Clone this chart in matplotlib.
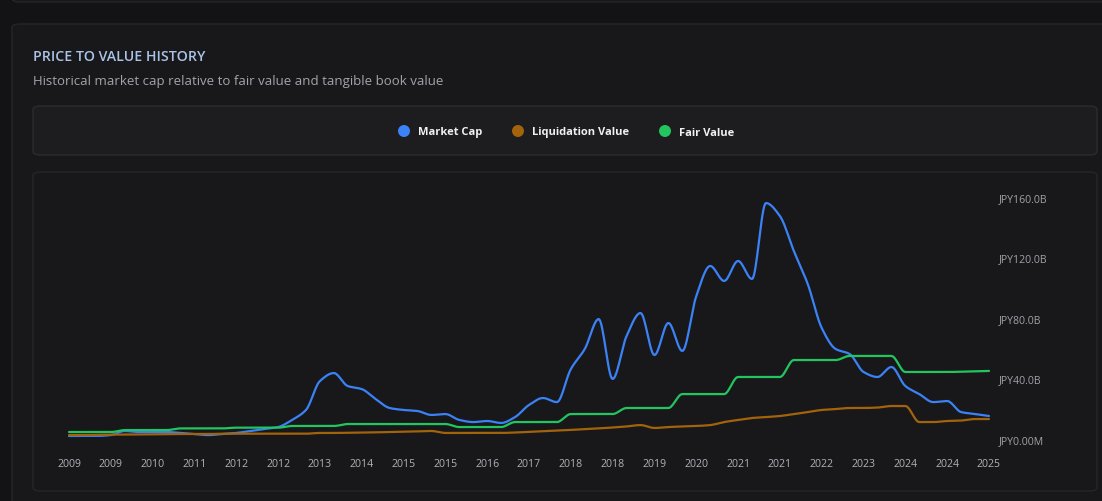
#!/usr/bin/env python3
# -*- coding: utf-8 -*-
# Price to value history chart (quarterly, JPY billions)
import numpy as np
import matplotlib
matplotlib.use('Agg')
import matplotlib.pyplot as plt
from matplotlib.patches import FancyBboxPatch, Ellipse
from matplotlib.ticker import FixedLocator, FuncFormatter

# quarterly values, 2009 -> 2025, in billions of JPY
market_cap = [2.0, 2.0, 2.0, 2.6, 5.3, 4.6, 4.6, 4.6, 4.0, 3.3,
              2.6, 3.3, 4.0, 5.3, 6.6, 7.9, 12.6, 19.2, 38.3, 43.6,
              35.0, 33.0, 26.4, 20.5, 19.2, 18.5, 15.9, 16.5, 12.6, 11.2,
              11.9, 10.6, 14.5, 22.5, 27.1, 24.4, 46.2, 59.5, 79.3, 39.7,
              68.1, 83.3, 55.5, 76.7, 58.2, 94.5, 114.4, 104.5, 117.7, 105.8,
              156.0, 147.4, 124.3, 102.4, 73.4, 59.5, 56.2, 44.3, 41.0, 47.6,
              35.0, 29.7, 24.4, 25.1, 17.8, 16.5, 15.2]
liquidation_value = [2.6, 2.6, 2.8, 2.9, 3.0, 3.0, 3.1, 3.2, 3.3, 3.3,
                     3.3, 3.5, 3.5, 3.5, 3.5, 3.5, 3.5, 3.5, 4.0, 4.0,
                     4.1, 4.2, 4.4, 4.6, 4.8, 5.0, 5.3, 4.0, 4.0, 4.0,
                     4.0, 4.0, 4.3, 4.7, 5.1, 5.5, 6.0, 6.5, 7.0, 7.6,
                     8.3, 9.2, 7.3, 7.9, 8.3, 8.6, 9.2, 11.2, 12.6, 13.9,
                     14.5, 15.2, 16.5, 17.8, 19.2, 19.8, 20.5, 20.5, 20.8, 21.8,
                     21.8, 11.2, 11.2, 11.9, 12.2, 13.2, 13.2]
fair_value = [4.6, 4.6, 4.6, 4.6, 5.9, 5.9, 5.9, 5.9, 7.0, 7.0,
              7.0, 7.0, 7.5, 7.5, 7.5, 7.5, 8.6, 8.6, 8.6, 8.6,
              9.9, 9.9, 9.9, 9.9, 9.9, 9.9, 9.9, 9.9, 7.9, 7.9,
              7.9, 7.9, 11.2, 11.2, 11.2, 11.2, 16.5, 16.5, 16.5, 16.5,
              20.5, 20.5, 20.5, 20.5, 29.7, 29.7, 29.7, 29.7, 41.0, 41.0,
              41.0, 41.0, 52.2, 52.2, 52.2, 52.2, 54.9, 54.9, 54.9, 54.9,
              44.3, 44.3, 44.3, 44.3, 44.5, 44.8, 45.0]

# one label for every third quarter
x_labels = ['2009', '2009', '2010', '2011', '2012', '2012', '2013', '2014',
            '2015', '2015', '2016', '2017', '2018', '2018', '2019', '2020',
            '2021', '2021', '2022', '2023', '2024', '2024', '2025']
y_ticks = [0, 40, 80, 120, 160]

series = [
    ('Market Cap', market_cap, '#3b82f6'),
    ('Liquidation Value', liquidation_value, '#a3630b'),
    ('Fair Value', fair_value, '#22c55e'),
]

W, H = 1102, 502
BG = '#131316'
CARD = '#18181b'
BORDER = '#26262a'


def monotone(y, n = 16):
    """Monotone cubic (Fritsch-Carlson) through evenly spaced points."""
    y = np.asarray(y, dtype = float)
    x = np.arange(len(y), dtype = float)
    d = np.diff(y)
    m = np.zeros_like(y)
    m[0] = d[0]
    m[-1] = d[-1]
    for i in range(1, len(y) - 1):
        if d[i - 1] * d[i] > 0:
            m[i] = 2.0 / (1.0 / d[i - 1] + 1.0 / d[i])
    xs, ys = [], []
    t = np.linspace(0, 1, n, endpoint = False)
    for i in range(len(y) - 1):
        h00 = 2 * t**3 - 3 * t**2 + 1
        h10 = t**3 - 2 * t**2 + t
        h01 = -2 * t**3 + 3 * t**2
        h11 = t**3 - t**2
        xs.append(x[i] + t)
        ys.append(h00 * y[i] + h10 * m[i] + h01 * y[i + 1] + h11 * m[i + 1])
    xs.append([x[-1]])
    ys.append([y[-1]])
    return np.concatenate(xs), np.concatenate(ys)


def box(fig, x0, y0, x1, y1, face, edge, r = 8):
    # pixel box (top-left origin) -> figure fraction
    p = FancyBboxPatch((x0 / W, 1 - y1 / H), (x1 - x0) / W, (y1 - y0) / H,
                       boxstyle = 'round,pad=0,rounding_size=%f' % (r / W),
                       transform = fig.transFigure, facecolor = face,
                       edgecolor = edge, linewidth = 1, zorder = -5)
    fig.patches.append(p)


def fmt_jpy(v, pos):
    if v == 0:
        return 'JPY0.00M'
    return 'JPY%.1fB' % v


def main():
    plt.rcParams['font.family'] = ['Open Sans', 'DejaVu Sans']
    fig = plt.figure(figsize = (W / 100, H / 100), dpi = 100, facecolor = BG)

    # cards
    box(fig, 12, -30, 1130, 3, CARD, BORDER)
    box(fig, 12, 25, 1130, 540, CARD, BORDER)
    box(fig, 33, 107, 1097, 156, '#1d1d20', '#2c2c30')
    box(fig, 33, 173, 1097, 492, CARD, BORDER)

    fig.text(33 / W, 1 - 57 / H, 'PRICE TO VALUE HISTORY', color = '#a9c4e8',
             fontsize = 10.2, fontweight = 'semibold', va = 'center', ha = 'left')
    fig.text(33 / W, 1 - 81 / H,
             'Historical market cap relative to fair value and tangible book value',
             color = '#a3a3ab', fontsize = 9.5, va = 'center', ha = 'left')

    # legend
    leg_x = [404, 518, 665]
    for (name, _, color), lx in zip(series, leg_x):
        fig.patches.append(Ellipse((lx / W, 1 - 132 / H), 12 / W, 12 / H,
                                   facecolor = color, edgecolor = 'none',
                                   transform = fig.transFigure, zorder = 2))
        fig.text((lx + 14) / W, 1 - 133 / H, name, color = '#f0f0f0',
                 fontsize = 8.0, fontweight = 'bold', va = 'center', ha = 'left')

    # plot area in pixels
    ax_l, ax_r, ax_t, ax_b = 60, 995, 190, 445
    ax = fig.add_axes([ax_l / W, 1 - ax_b / H, (ax_r - ax_l) / W, (ax_b - ax_t) / H])
    ax.set_zorder(5)
    ax.set_facecolor('none')
    ppx = (989 - 69) / 66.0
    ax.set_xlim(-(69 - ax_l) / ppx, 66 + (ax_r - 989) / ppx)
    ppy = (440 - 198) / 160.0
    ax.set_ylim(-(ax_b - 440) / ppy, (440 - ax_t) / ppy)

    for name, vals, color in series:
        xs, ys = monotone(vals)
        ax.plot(xs, ys, color = color, lw = 1.6, solid_capstyle = 'round')

    ax.xaxis.set_major_locator(FixedLocator(np.arange(len(x_labels)) * 3))
    ax.set_xticklabels(x_labels)
    ax.yaxis.tick_right()
    ax.yaxis.set_major_locator(FixedLocator(y_ticks))
    ax.yaxis.set_major_formatter(FuncFormatter(fmt_jpy))
    ax.tick_params(axis = 'x', length = 0, pad = 10, labelsize = 7.6, labelcolor = '#b0b0b8')
    ax.tick_params(axis = 'y', length = 0, pad = 3, labelsize = 7.6, labelcolor = '#a0a0a8')
    for s in ax.spines.values():
        s.set_visible(False)

    fig.savefig('out.png', dpi = 100, facecolor = BG)


if __name__ == '__main__':
    main()
